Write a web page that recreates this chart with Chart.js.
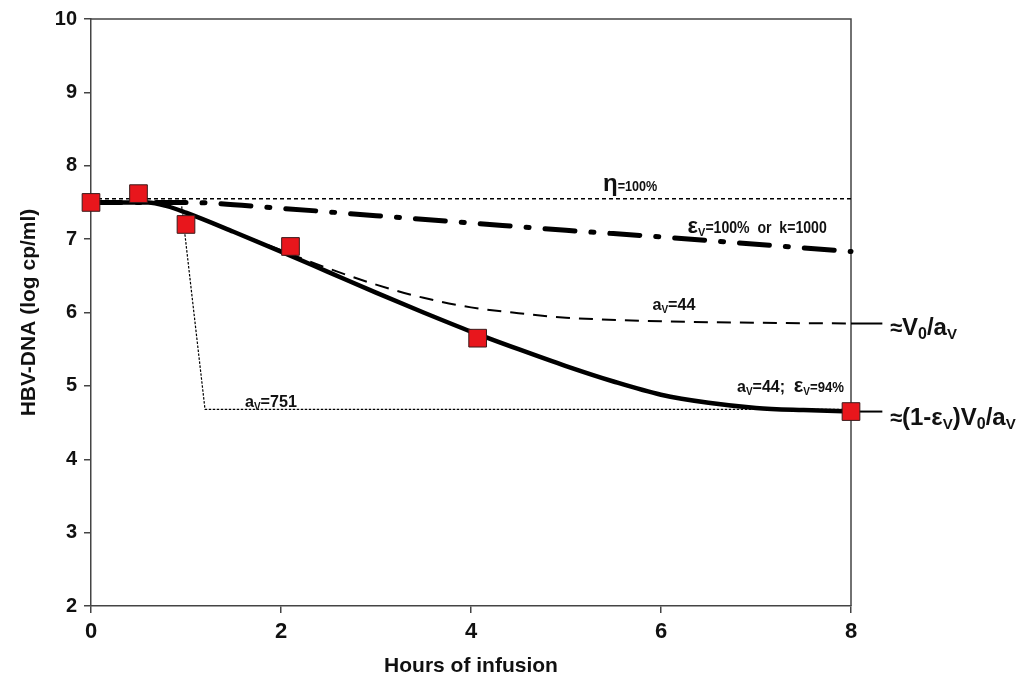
<!DOCTYPE html>
<html>
<head>
<meta charset="utf-8">
<script src="https://cdn.jsdelivr.net/npm/chart.js@4/dist/chart.umd.min.js"></script>
<style>
html,body{margin:0;padding:0;background:#fff;}
#wrap{width:1021px;height:685px;position:relative;}
</style>
</head>
<body>
<div id="wrap"><canvas id="c"></canvas></div>
<script>
// Observed data (red squares)
const obsHours = [0, 0.5, 1.0, 2.1, 4.07, 8];
const obsLog   = [7.5, 7.62, 7.2, 6.9, 5.65, 4.65];

// Model: aV=44; εV=94% (thick solid)
const solidHours = [0, 0.6, 0.8, 1, 1.5, 2, 2.5, 3, 3.5, 4, 4.5, 5, 5.5, 6, 6.5, 7, 7.5, 8];
const solidLog   = [7.5, 7.5, 7.45, 7.36, 7.1, 6.83, 6.55, 6.27, 6.0, 5.74, 5.5, 5.27, 5.06, 4.88, 4.77, 4.7, 4.67, 4.65];

// Model: aV=44 (dashed)
const dashHours = [0, 0.6, 0.8, 1, 1.5, 2, 2.25, 2.5, 3, 3.5, 4, 4.5, 5, 6, 7, 8];
const dashLog   = [7.5, 7.5, 7.45, 7.36, 7.1, 6.85, 6.72, 6.6, 6.38, 6.2, 6.07, 5.99, 5.93, 5.88, 5.86, 5.85];

// Model: εV=100% or k=1000 (dash-dot)
const ddHours = [0, 1, 2, 3, 4, 5, 6, 7, 8];
const ddLog   = [7.5, 7.5, 7.42, 7.32, 7.22, 7.12, 7.03, 6.93, 6.83];

// Model: η=100% (dotted)
const etaHours = [0, 8];
const etaLog   = [7.55, 7.55];

// Model: aV=751 (thin dotted)
const a751Hours = [0.95, 1.2, 8];
const a751Log   = [7.5, 4.68, 4.68];

// Short leader segments to the right-hand labels
const leadV0Hours = [8, 8.33];
const leadV0Log   = [5.85, 5.85];
const leadEpsHours = [8, 8.33];
const leadEpsLog   = [4.65, 4.65];

// Axis ticks
const xTicks = [0, 2, 4, 6, 8];
const yTicks = [2, 3, 4, 5, 6, 7, 8, 9, 10];

// Annotation labels: anchor (hours, log), horizontal squeeze, parts: [text, size, dy, squeezed]
const labelAnchors = [
  {x: 5.39, y: 7.66, sx: 0.9, parts: [['η', 24, 0, false], ['=100%', 14, 0, true]]},
  {x: 6.28, y: 7.09, sx: 0.88, parts: [['ε', 22, 0, false], ['V', 11, 3, false], ['=100%  or  k=1000', 16, 0, true]]},
  {x: 5.91, y: 6.04, sx: 0.95, parts: [['a', 17, 0, true], ['V', 10, 3, false], ['=44', 17, 0, true]]},
  {x: 6.80, y: 4.91, sx: 0.94, parts: [['a', 17, 0, true], ['V', 10, 3, false], ['=44;  ', 17, 0, true], ['ε', 20, 0, false], ['V', 10, 3, false], ['=94%', 14, 0, true]]},
  {x: 1.62, y: 4.71, sx: 0.95, parts: [['a', 17, 0, true], ['V', 10, 3, false], ['=751', 17, 0, true]]},
  {x: 8.41, y: 5.69, sx: 1, parts: [['≈', 22, 0, false], ['V', 24, 0, false], ['0', 16, 4, false], ['/a', 24, 0, false], ['V', 15, 4, false]]},
  {x: 8.41, y: 4.46, sx: 1, parts: [['≈', 22, 0, false], ['(1-ε', 24, 0, false], ['V', 15, 4, false], [')V', 24, 0, false], ['0', 16, 4, false], ['/a', 24, 0, false], ['V', 15, 4, false]]}
];

const toXY = (xs, ys) => xs.map((x, i) => ({x: x, y: ys[i]}));

const FONT = '"Liberation Sans", Arial, sans-serif';

const framePlugin = {
  id: 'frame',
  beforeDatasetsDraw(chart) {
    const {ctx, chartArea: a} = chart;
    ctx.save();
    ctx.strokeStyle = '#444';
    ctx.lineWidth = 1.5;
    ctx.beginPath();
    ctx.moveTo(a.left, a.top);
    ctx.lineTo(a.right, a.top);
    ctx.lineTo(a.right, a.bottom);
    ctx.stroke();
    ctx.restore();
  }
};

const textPlugin = {
  id: 'annots',
  afterDatasetsDraw(chart) {
    const {ctx} = chart;
    const xs = chart.scales.x, ys = chart.scales.y;
    ctx.save();
    ctx.fillStyle = '#111';
    ctx.textBaseline = 'alphabetic';
    ctx.textAlign = 'left';
    labelAnchors.forEach(l => {
      let px = xs.getPixelForValue(l.x);
      const py = ys.getPixelForValue(l.y);
      l.parts.forEach(p => {
        ctx.font = 'bold ' + p[1] + 'px ' + FONT;
        const k = p[3] ? l.sx : 1;
        ctx.save();
        ctx.translate(px, py + p[2]);
        ctx.scale(k, 1);
        ctx.fillText(p[0], 0, 0);
        ctx.restore();
        px += ctx.measureText(p[0]).width * k;
      });
    });
    ctx.restore();
  }
};

const lineDS = (label, data, opts) => Object.assign({
  label: label, data: data, showLine: true, pointRadius: 0, pointHoverRadius: 0,
  borderColor: '#000', backgroundColor: '#000', fill: false, clip: false
}, opts);

new Chart(document.getElementById('c'), {
  type: 'scatter',
  data: {
    datasets: [
      {label: 'Observed', data: toXY(obsHours, obsLog), pointStyle: 'rect', pointRadius: 12.5,
       backgroundColor: '#e8161c', borderColor: '#3a1a1a', borderWidth: 1, showLine: false, clip: false},
      lineDS('aV=44; εV=94%', toXY(solidHours, solidLog), {borderWidth: 4.5, cubicInterpolationMode: 'monotone'}),
      lineDS('aV=44', toXY(dashHours, dashLog), {borderWidth: 2, borderDash: [14, 9], cubicInterpolationMode: 'monotone'}),
      lineDS('εV=100% or k=1000', toXY(ddHours, ddLog), {borderWidth: 5, borderDash: [30, 16, 3, 16], borderCapStyle: 'round', cubicInterpolationMode: 'monotone'}),
      lineDS('η=100%', toXY(etaHours, etaLog), {borderWidth: 1.6, borderDash: [4, 3]}),
      lineDS('aV=751', toXY(a751Hours, a751Log), {borderWidth: 1.2, borderDash: [2.5, 1.5]}),
      lineDS('lead1', toXY(leadV0Hours, leadV0Log), {borderWidth: 2}),
      lineDS('lead2', toXY(leadEpsHours, leadEpsLog), {borderWidth: 2})
    ]
  },
  options: {
    responsive: true,
    maintainAspectRatio: false,
    animation: false,
    events: [],
    layout: {padding: {top: 18, right: 170, bottom: 0, left: 0}},
    plugins: {legend: {display: false}, tooltip: {enabled: false}},
    scales: {
      x: {
        type: 'linear', min: 0, max: 8,
        afterFit(s) { s.height = 79; },
        afterBuildTicks(s) { s.ticks = xTicks.map(v => ({value: v})); },
        grid: {drawOnChartArea: false, drawTicks: true, tickLength: 7, color: '#444', lineWidth: 1.5},
        border: {display: true, color: '#444', width: 1.5},
        ticks: {color: '#111', padding: 6, font: {family: FONT, size: 22, weight: 'bold'}, maxRotation: 0},
        title: {display: true, text: 'Hours of infusion', color: '#111', padding: {top: 0, bottom: 6},
                font: {family: FONT, size: 21, weight: 'bold'}}
      },
      y: {
        type: 'linear', min: 2, max: 10,
        afterFit(s) { s.width = 91; },
        afterBuildTicks(s) { s.ticks = yTicks.map(v => ({value: v})); },
        grid: {drawOnChartArea: false, drawTicks: true, tickLength: 7, color: '#444', lineWidth: 1.5},
        border: {display: true, color: '#444', width: 1.5},
        ticks: {color: '#111', padding: 7, font: {family: FONT, size: 20, weight: 'bold'}},
        title: {display: true, text: 'HBV-DNA (log cp/ml)', color: '#111', padding: {top: 17, bottom: 0},
                font: {family: FONT, size: 21, weight: 'bold'}}
      }
    }
  },
  plugins: [framePlugin, textPlugin]
});
</script>
</body>
</html>
